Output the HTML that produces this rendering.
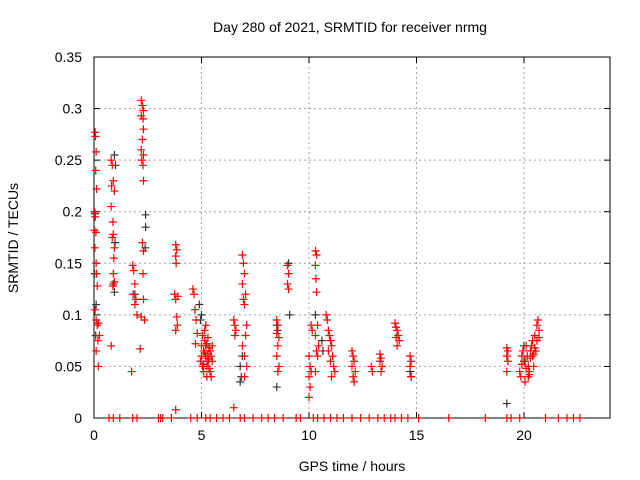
<!DOCTYPE html>
<html><head><meta charset="utf-8"><style>
html,body{margin:0;padding:0;background:#fff;}
svg{display:block;font-family:"Liberation Sans","DejaVu Sans",sans-serif;}
</style></head><body>
<svg id="chart" width="640" height="480">
<text x="350" y="32" text-anchor="middle" font-size="14">Day 280 of 2021, SRMTID for receiver nrmg</text>
<text x="352" y="471" text-anchor="middle" font-size="14">GPS time / hours</text>
<text transform="translate(18,238) rotate(-90)" text-anchor="middle" font-size="14">SRMTID / TECUs</text>
<g id="grid"></g><g id="axes"></g><g id="black"></g><g id="red"></g>
</svg>
<script>
const xTicks=[0,5,10,15,20];
const yTicks=[0,0.05,0.1,0.15,0.2,0.25,0.3,0.35];
const yTickLabels=["0","0.05","0.1","0.15","0.2","0.25","0.3","0.35"];
const redTimes=[0.05,0.07,0.1,0.08,0.12,0.03,0.06,0.02,0.09,0.04,0.1,0.12,0.15,0.05,0.1,0.2,0.15,0.25,0.18,0.1,0.2,
0.8,0.85,0.9,0.82,0.95,0.8,0.88,0.9,0.85,0.95,0.92,0.9,0.95,0.88,0.8,
1.8,1.85,1.9,1.82,1.95,1.9,1.75,2.0,
2.2,2.25,2.3,2.2,2.28,2.3,2.25,2.2,2.3,2.22,2.28,2.3,2.25,2.3,2.28,2.3,2.2,2.35,2.15,
3.8,3.85,3.8,3.82,3.75,3.9,3.8,3.85,3.88,3.8,3.8,
4.6,4.65,4.7,4.75,4.8,4.72,
5.0,5.1,5.2,5.15,5.3,5.25,5.4,5.05,5.35,5.2,5.1,5.3,5.45,5.0,5.15,5.25,5.4,5.35,5.5,5.2,5.1,5.3,5.05,5.45,5.25,5.15,5.35,5.5,4.95,5.2,
6.5,6.5,6.55,6.6,6.55,
6.9,6.95,7.0,6.9,7.05,6.95,7.0,7.1,7.05,6.9,7.0,7.1,7.0,
8.5,8.55,8.5,8.6,8.55,8.5,8.6,8.55,
9.0,9.05,9.0,9.05,
10.0,10.05,10.1,10.0,10.05,10.0,10.1,10.15,
10.3,10.35,10.3,10.32,10.35,10.4,10.3,10.45,10.35,10.4,10.3,
10.8,10.85,10.9,10.95,11.0,11.05,10.9,11.1,11.0,11.15,11.2,11.05,
12.0,12.05,12.1,12.0,12.15,12.05,12.1,
12.9,12.95,
13.3,13.35,13.3,13.4,13.35,
14.0,14.05,14.1,14.15,14.05,14.2,14.1,
14.7,14.75,14.7,14.75,
19.2,19.25,19.2,19.25,19.2,
19.8,19.9,20.0,20.1,20.2,20.3,20.4,20.5,20.6,20.7,19.85,19.95,20.05,20.15,20.25,20.35,20.45,20.55,20.65,20.0,20.2,20.4,20.6,19.9,20.1,20.3,20.5,20.7,20.25,20.45];
const redValues=[0.277,0.273,0.258,0.24,0.222,0.2,0.195,0.182,0.18,0.165,0.15,0.14,0.128,0.105,0.095,0.092,0.09,0.08,0.075,0.065,0.05,
0.25,0.245,0.23,0.225,0.22,0.205,0.19,0.178,0.175,0.165,0.155,0.14,0.132,0.128,0.07,
0.148,0.143,0.13,0.12,0.115,0.11,0.045,0.1,
0.308,0.303,0.298,0.293,0.29,0.28,0.27,0.26,0.255,0.25,0.245,0.23,0.17,0.162,0.14,0.115,0.098,0.095,0.067,
0.168,0.163,0.157,0.15,0.12,0.118,0.115,0.098,0.09,0.085,0.008,
0.125,0.12,0.105,0.095,0.082,0.072,
0.07,0.065,0.06,0.075,0.055,0.05,0.045,0.08,0.068,0.058,0.052,0.062,0.04,0.06,0.085,0.072,0.065,0.048,0.055,0.07,0.045,0.078,0.05,0.06,0.04,0.063,0.057,0.07,0.055,0.09,
0.01,0.095,0.09,0.085,0.08,
0.158,0.15,0.14,0.13,0.12,0.115,0.11,0.09,0.08,0.07,0.06,0.05,0.04,
0.095,0.09,0.082,0.078,0.07,0.06,0.05,0.045,
0.148,0.14,0.13,0.125,
0.06,0.05,0.045,0.04,0.03,0.02,0.09,0.085,
0.162,0.158,0.148,0.135,0.122,0.09,0.08,0.07,0.065,0.06,0.045,
0.1,0.095,0.085,0.08,0.075,0.07,0.065,0.06,0.055,0.05,0.045,0.04,
0.065,0.06,0.055,0.05,0.045,0.04,0.035,
0.05,0.045,
0.062,0.058,0.055,0.05,0.045,
0.092,0.088,0.085,0.08,0.078,0.075,0.07,
0.06,0.055,0.05,0.04,
0.068,0.065,0.06,0.055,0.045,
0.045,0.06,0.055,0.07,0.05,0.065,0.075,0.08,0.09,0.085,0.04,0.065,0.035,0.06,0.045,0.07,0.05,0.065,0.095,0.055,0.04,0.06,0.075,0.052,0.048,0.058,0.068,0.078,0.042,0.062];
const zeroTimes=[0.7,0.9,1.2,1.8,2.0,3.0,3.1,3.2,3.6,4.5,4.8,5.2,5.4,5.7,6.0,6.3,6.8,7.0,7.4,7.8,8.1,8.4,8.8,9.4,9.6,10.2,10.4,10.7,11.0,11.3,11.6,12.0,12.4,12.8,13.2,13.5,13.8,14.0,14.3,14.6,15.1,16.5,18.2,19.2,19.4,19.8,21.0,21.6,22.0,22.3,22.6];
const blackTimes=[0.02,0.05,0.03,0.1,0.08,0.95,1.0,0.98,0.9,0.95,1.9,2.4,2.4,2.38,4.9,5.0,4.95,6.8,6.85,6.8,6.9,8.5,8.55,8.5,9.1,9.05,10.3,10.6,10.65,14.7,14.75,19.2,20.0,20.05];
const blackValues=[0.2,0.198,0.14,0.11,0.08,0.255,0.245,0.17,0.13,0.122,0.12,0.197,0.185,0.165,0.11,0.1,0.095,0.035,0.04,0.05,0.06,0.09,0.085,0.03,0.1,0.15,0.1,0.075,0.065,0.045,0.04,0.014,0.07,0.055];

const X0=94,X1=610,Y0=418,Y1=57,XMAX=24,YMAX=0.35;
const xs=t=>X0+t*(X1-X0)/XMAX;
const ys=v=>Y0-v*(Y0-Y1)/YMAX;
const NS="http://www.w3.org/2000/svg";
function mk(tag,attrs,parent){const e=document.createElementNS(NS,tag);for(const k in attrs)e.setAttribute(k,attrs[k]);parent.appendChild(e);return e;}
const grid=document.getElementById('grid'),axes=document.getElementById('axes');
xTicks.forEach((t,i)=>{
  const x=xs(t);
  if(t>0){const g=mk('line',{x1:x,y1:Y1,x2:x,y2:Y0,stroke:'#a0a0a0','stroke-dasharray':'2,3'},grid);
  
  }
  mk('line',{x1:x,y1:Y0,x2:x,y2:Y0-6,stroke:'#000'},axes);
  mk('line',{x1:x,y1:Y1,x2:x,y2:Y1+6,stroke:'#000'},axes);
  const l=mk('text',{x:x,y:Y0+22,'text-anchor':'middle','font-size':'14'},axes);l.textContent=String(t);
  
  
});
yTicks.forEach((v,i)=>{
  const y=ys(v);
  if(v>0&&v<YMAX){const g=mk('line',{x1:X0,y1:y,x2:X1,y2:y,stroke:'#a0a0a0','stroke-dasharray':'2,3'},grid);
  
  }
  mk('line',{x1:X0,y1:y,x2:X0+6,y2:y,stroke:'#000'},axes);
  mk('line',{x1:X1,y1:y,x2:X1-6,y2:y,stroke:'#000'},axes);
  const l=mk('text',{x:X0-12,y:y+5,'text-anchor':'end','font-size':'14'},axes);l.textContent=yTickLabels[i];
  
  
});
const fr=mk('rect',{x:X0,y:Y1,width:X1-X0,height:Y0-Y1,fill:'none',stroke:'#000'},axes);


function plus(g,t,v,color,name){
  const x=xs(t),y=ys(v);
  const p=mk('path',{d:`M${x-4},${y}H${x+4}M${x},${y-4}V${y+4}`,stroke:color,'stroke-width':'1.2',fill:'none'},g);
  
  
}
const bg=document.getElementById('black'),rg=document.getElementById('red');
blackTimes.forEach((t,i)=>plus(bg,t,blackValues[i],'#333','black-point'));
redTimes.forEach((t,i)=>plus(rg,t,redValues[i],'#ff0000','red-point'));
zeroTimes.forEach(t=>plus(rg,t,0,'#ff0000','zero-point'));
</script>
</body></html>
